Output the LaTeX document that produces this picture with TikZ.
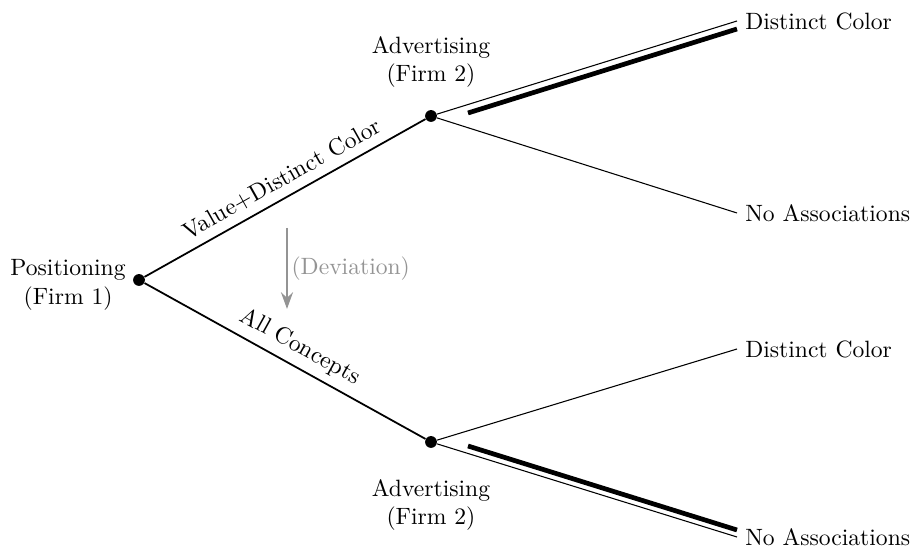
\documentclass[tikz,border=0pt]{standalone}
\usetikzlibrary{arrows.meta}
\begin{document}
\begin{tikzpicture}[x=0.4237pt,y=-0.4237pt,
  dot/.style={circle,fill=black,inner sep=0pt,minimum size=5pt},
  leaf/.style={anchor=west,inner sep=3.3pt},
  rootedge/.style={line width=0.75pt},
  childedge/.style={line width=0.45pt},
  bestedge/.style={line width=2pt},
  lbl/.style={align=center},
  devcol/.style={color=black!42}]
\useasboundingbox (0,0) rectangle (912,548);
\node[dot] (r) at (139,280) {};
\node[dot] (u) at (431,116) {};
\node[dot] (l) at (431,442) {};
\node[lbl,anchor=east] (rl) at (134,285) {Positioning\\(Firm 1)};
\node[lbl] (ul) at (431,62) {Advertising\\(Firm 2)};
\node[lbl] (ll) at (431,505) {Advertising\\(Firm 2)};
\node[leaf] (d1) at (737,21) {Distinct Color};
\node[leaf] (d2) at (737,213) {No Associations};
\node[leaf] (d3) at (737,349) {Distinct Color};
\node[leaf] (d4) at (737,537) {No Associations};
\draw[rootedge] (r) -- node[sloped,above,pos=0.52] (e1) {Value+Distinct Color} (u);
\draw[rootedge] (r) -- node[sloped,above,pos=0.52] (e2) {All Concepts} (l);
\draw[childedge] (u) -- (d1.west);
\draw[childedge] (u) -- (d2.west);
\draw[childedge] (l) -- (d3.west);
\draw[childedge] (l) -- (d4.west);
\coordinate (t1a) at (468,113);
\coordinate (t1b) at (737,29);
\coordinate (t2a) at (468,446);
\coordinate (t2b) at (737,530);
\draw[bestedge] (t1a) -- (t1b);
\draw[bestedge] (t2a) -- (t2b);
\coordinate (da) at (287,228);
\coordinate (db) at (287,309);
\draw[devcol,line width=1.2pt,-{Stealth[length=7pt,width=5pt]}] (da) -- node[right,devcol,xshift=-2pt] (dl) {(Deviation)} (db);
\end{tikzpicture}
\end{document}
